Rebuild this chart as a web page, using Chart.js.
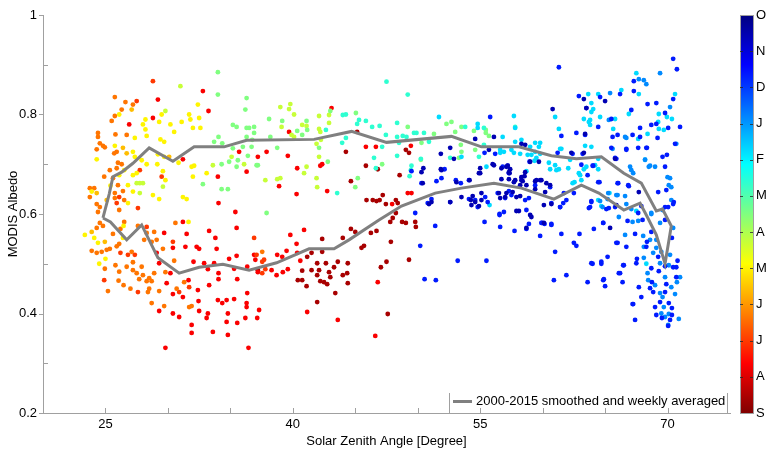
<!DOCTYPE html>
<html>
<head>
<meta charset="utf-8">
<script src="https://cdn.jsdelivr.net/npm/chart.js@4.4.0/dist/chart.umd.min.js"></script>
<style>
  html, body { margin: 0; padding: 0; background: #fff; }
  #wrap { width: 767px; height: 449px; }
</style>
</head>
<body>
<div id="wrap"><canvas id="albedoChart" width="767" height="449"></canvas></div>
<script>
// scatter points [zenith angle, albedo], grouped by month colour (colour bar runs Oct at top -> Sep at bottom)
const octNov = [[50.3,0.684],[50.45,0.692],[51.85,0.69],[53.1,0.664],[52.6,0.733],[52.9,0.711],[54.6,0.751],[56.1,0.755],[55.7,0.729],[56.0,0.70],[55.0,0.692],[55.0,0.682],[53.5,0.634],[54.4,0.636],[55.1,0.642],[57.1,0.642],[60.8,0.811],[63.4,0.761],[62.3,0.723],[63.3,0.723],[59.7,0.705],[58.6,0.739],[59.0,0.705],[57.8,0.668],[58.4,0.666],[58.7,0.658],[59.5,0.668],[59.9,0.668],[59.4,0.65],[60.6,0.658],[60.7,0.62],[60.1,0.618],[58.1,0.606],[59.1,0.594],[58.7,0.572],[58.2,0.636],[63.3,0.831],[65.0,0.827],[63.5,0.813],[58.3,0.741],[57.2,0.697],[56.7,0.692],[57.4,0.69],[57.35,0.682],[56.7,0.67],[57.7,0.664],[58.3,0.668],[58.55,0.676],[58.2,0.658],[59.4,0.666],[59.8,0.668],[60.3,0.662],[60.2,0.644],[57.0,0.634],[57.6,0.644],[65.8,0.711],[67.7,0.644],[65.9,0.618],[65.4,0.572],[51.9,0.688],[54.15,0.668],[54.9,0.682],[50.4,0.662],[55.1,0.628],[54.3,0.618],[54.9,0.616],[56.5,0.642],[56.6,0.632],[57.9,0.634],[56.1,0.698],[57.1,0.695],[57.3,0.684],[58.6,0.684],[58.3,0.674],[57.3,0.67],[51.1,0.624],[50.9,0.62],[52.6,0.624],[54.25,0.628],[54.6,0.624],[57.9,0.606],[59.0,0.598],[60.1,0.582],[51.85,0.721]];
const dec = [[49.5,0.686],[50.3,0.662],[51.5,0.666],[51.9,0.672],[52.15,0.69],[53.05,0.668],[53.45,0.662],[54.1,0.668],[55.8,0.795],[55.35,0.723],[56.2,0.721],[56.8,0.695],[57.2,0.697],[57.3,0.682],[49.8,0.602],[50.8,0.622],[51.1,0.63],[52.6,0.624],[54.1,0.63],[54.6,0.628],[54.8,0.614],[55.6,0.624],[56.4,0.642],[56.55,0.60],[56.9,0.604],[57.0,0.632],[63.5,0.813],[62.7,0.763],[61.5,0.757],[63.6,0.678],[61.7,0.642],[61.9,0.628],[61.4,0.614],[58.6,0.628],[58.7,0.608],[59.95,0.582],[60.7,0.58],[56.6,0.574],[56.55,0.598],[57.5,0.638],[57.3,0.646],[63.8,0.614],[63.9,0.626],[51.4,0.576],[50.2,0.536],[50.55,0.469],[51.45,0.467],[53.2,0.506],[55.5,0.506],[55.35,0.584],[70.45,0.912],[70.75,0.891],[61.3,0.895],[67.3,0.867],[67.3,0.847],[66.2,0.841],[62.9,0.837],[64.6,0.835],[64.45,0.775],[65.5,0.791],[67.1,0.809],[68.4,0.821],[69.1,0.823],[69.8,0.803],[70.45,0.831],[69.1,0.781],[68.7,0.779],[70.05,0.773],[71.0,0.775],[67.8,0.773],[66.0,0.759],[65.6,0.755],[67.2,0.759],[67.8,0.755],[69.2,0.753],[68.35,0.733],[66.7,0.731],[63.4,0.759],[69.95,0.719],[65.8,0.713],[61.2,0.723],[62.4,0.721],[63.2,0.721],[64.05,0.697],[63.1,0.699],[58.95,0.705],[59.4,0.658],[60.6,0.654],[62.5,0.642],[64.45,0.664],[66.0,0.662],[66.85,0.658],[58.9,0.632],[60.7,0.622],[61.65,0.622],[61.4,0.614],[65.1,0.61],[65.8,0.614],[68.0,0.588],[69.25,0.644],[69.8,0.614],[70.45,0.62],[67.65,0.602],[67.65,0.733],[65.5,0.733],[66.7,0.729],[65.9,0.711],[68.3,0.733],[70.6,0.741],[69.6,0.715],[64.0,0.697],[69.8,0.695],[64.55,0.664],[66.05,0.662],[66.9,0.656],[69.9,0.648],[63.9,0.624],[65.3,0.612],[67.9,0.616],[63.7,0.612],[70.05,0.614],[70.5,0.624],[69.8,0.588],[64.85,0.582],[64.1,0.57],[66.8,0.586],[67.4,0.56],[68.7,0.564],[68.35,0.544],[68.3,0.534],[66.7,0.534],[66.0,0.542],[70.35,0.552],[69.25,0.514],[65.2,0.514],[67.55,0.51],[64.0,0.50],[64.7,0.50],[66.5,0.497],[69.8,0.495],[70.45,0.493],[70.8,0.506],[70.7,0.493],[68.7,0.491],[69.3,0.485],[66.2,0.481],[70.7,0.473],[64.9,0.469],[66.4,0.463],[68.75,0.463],[67.7,0.453],[68.6,0.451],[69.9,0.459],[68.85,0.443],[69.8,0.443],[67.9,0.433],[69.4,0.423],[70.1,0.421],[69.0,0.413],[67.2,0.419],[70.35,0.411],[69.1,0.397],[70.35,0.397],[69.55,0.391],[70.2,0.387],[67.4,0.387],[70.05,0.375],[60.9,0.467],[61.9,0.477],[63.6,0.463],[64.85,0.467],[65.0,0.455],[61.0,0.524],[62.5,0.542],[62.7,0.536],[63.9,0.501],[64.7,0.504],[66.1,0.481],[66.45,0.497],[67.5,0.501],[67.25,0.419],[57.75,0.566],[58.7,0.57],[58.9,0.58],[59.9,0.582],[60.15,0.58],[60.7,0.578],[59.8,0.556],[61.5,0.56],[62.95,0.56],[64.85,0.582],[65.9,0.542],[55.4,0.634]];
const jan = [[65.4,0.843],[67.7,0.871],[68.1,0.869],[68.3,0.861],[69.4,0.883],[65.3,0.789],[70.2,0.815],[66.7,0.753],[70.7,0.741],[65.6,0.731],[66.6,0.755],[65.25,0.642],[65.9,0.638],[68.7,0.602],[70.2,0.672],[70.1,0.658],[70.3,0.628],[67.1,0.61],[69.0,0.695],[68.6,0.697],[68.2,0.709],[67.1,0.688],[67.25,0.682],[67.0,0.695],[68.5,0.695],[70.0,0.674],[70.3,0.654],[66.0,0.638],[66.6,0.636],[64.6,0.626],[65.2,0.63],[64.8,0.614],[66.7,0.62],[66.1,0.594],[68.7,0.60],[69.4,0.582],[69.6,0.608],[70.45,0.572],[67.2,0.584],[67.65,0.586],[68.05,0.556],[66.6,0.558],[68.6,0.548],[69.1,0.548],[68.1,0.534],[69.1,0.532],[69.5,0.524],[70.2,0.518],[68.85,0.522],[68.1,0.512],[69.4,0.501],[70.1,0.497],[68.4,0.481],[69.8,0.473],[71.0,0.473],[70.75,0.463],[68.45,0.467],[69.0,0.457],[70.3,0.453],[69.4,0.441],[70.6,0.439],[69.6,0.433],[69.7,0.413],[69.5,0.40],[70.1,0.399],[69.8,0.393],[70.9,0.389],[70.05,0.377]];
const feb = [[51.7,0.795],[54.8,0.781],[54.8,0.773],[56.8,0.755],[56.6,0.723],[55.5,0.695],[55.75,0.618],[53.5,0.715],[63.9,0.823],[63.8,0.789],[63.9,0.735],[64.2,0.698],[63.0,0.678],[63.3,0.69],[62.55,0.664],[63.1,0.668],[61.4,0.731],[60.5,0.703],[60.6,0.69],[62.05,0.692],[61.0,0.698],[61.1,0.688],[59.35,0.707],[59.5,0.713],[59.8,0.721],[59.8,0.743],[59.0,0.735],[58.3,0.749],[57.8,0.745],[57.7,0.723],[57.5,0.729],[58.2,0.721],[59.1,0.719],[59.4,0.725],[58.7,0.686],[64.45,0.628],[67.5,0.883],[63.65,0.841],[64.45,0.841],[66.3,0.849],[67.7,0.841],[63.9,0.805],[64.05,0.811],[64.6,0.795],[63.3,0.791],[63.7,0.785],[63.8,0.779],[65.8,0.791],[66.9,0.801],[69.3,0.801],[70.6,0.841],[69.95,0.795],[70.35,0.791],[69.25,0.785],[69.3,0.771],[69.7,0.769],[65.65,0.771],[67.65,0.751],[68.4,0.761],[63.4,0.737],[61.5,0.731],[61.3,0.771],[68.2,0.709],[61.0,0.795],[57.7,0.797],[57.8,0.773],[59.7,0.735],[62.2,0.709],[63.5,0.695],[64.45,0.711],[62.9,0.682],[61.3,0.69],[62.4,0.662],[64.7,0.616],[64.45,0.69],[67.5,0.606],[65.35,0.642],[68.3,0.50],[58.8,0.719],[59.4,0.743],[56.6,0.729],[56.9,0.725]];
const mar = [[47.5,0.866],[49.2,0.84],[44.0,0.799],[44.25,0.80],[45.3,0.789],[45.85,0.787],[45.15,0.781],[46.35,0.775],[46.95,0.777],[48.35,0.783],[42.65,0.769],[43.95,0.743],[44.25,0.753],[47.45,0.759],[47.15,0.735],[48.35,0.755],[48.5,0.743],[49.1,0.755],[48.35,0.717],[46.5,0.713],[46.65,0.692],[50.25,0.711],[49.5,0.697],[49.35,0.676],[52.6,0.713],[43.55,0.642],[49.7,0.763],[49.9,0.763],[50.5,0.763],[50.9,0.745],[53.8,0.775],[55.3,0.773],[55.3,0.739],[54.9,0.715],[57.8,0.775],[49.45,0.688],[48.8,0.757]];
const aprEarly = [[34.0,0.885],[34.0,0.84],[36.3,0.833],[32.8,0.66],[34.3,0.70],[34.9,0.705],[34.3,0.65],[34.8,0.65],[34.05,0.755],[33.7,0.745],[34.35,0.742],[35.2,0.779],[35.5,0.775],[36.3,0.773],[36.9,0.775],[36.2,0.81],[36.3,0.755],[35.2,0.732],[35.6,0.708],[36.4,0.717],[35.5,0.695],[36.75,0.749],[36.0,0.735],[37.1,0.698],[38.1,0.791],[39.15,0.787],[41.1,0.787],[43.0,0.807],[45.05,0.803],[49.2,0.775],[36.5,0.773],[36.9,0.763],[40.35,0.767],[40.75,0.759],[41.15,0.769],[38.2,0.755],[38.75,0.733],[42.1,0.733],[37.9,0.602],[45.0,0.654],[45.2,0.672],[36.7,0.735],[37.2,0.698],[42.8,0.705],[47.15,0.70],[55.45,0.769],[50.3,0.743],[51.3,0.761],[52.3,0.781],[52.7,0.785],[53.0,0.765],[53.5,0.775],[54.5,0.767],[55.45,0.763],[55.7,0.757],[53.45,0.739],[53.5,0.725],[54.6,0.729],[50.25,0.709],[53.3,0.713]];
const apr = [[31.0,0.857],[29.8,0.807],[27.5,0.662],[27.75,0.662],[28.0,0.662],[27.75,0.642],[29.6,0.655],[33.6,0.698],[35.1,0.715],[36.1,0.70],[39.0,0.815],[39.8,0.821],[39.7,0.811],[40.1,0.80],[39.1,0.775],[40.75,0.779],[41.1,0.777],[42.1,0.797],[42.9,0.799],[39.9,0.759],[40.1,0.755],[42.1,0.771],[42.9,0.783],[42.2,0.765],[41.9,0.741],[42.25,0.749],[37.8,0.668],[38.75,0.67],[39.0,0.672],[40.9,0.682],[41.1,0.695],[41.9,0.672],[41.95,0.654],[42.1,0.715]];
const may = [[26.1,0.80],[28.2,0.79],[29.3,0.785],[29.5,0.80],[30.2,0.78],[32.4,0.82],[31.7,0.80],[31.1,0.785],[31.8,0.79],[32.0,0.773],[32.5,0.793],[32.6,0.773],[30.5,0.765],[29.4,0.75],[29.7,0.745],[28.2,0.77],[28.3,0.757],[28.0,0.78],[27.35,0.753],[25.75,0.737],[27.2,0.725],[27.35,0.715],[24.3,0.71],[27.9,0.708],[29.2,0.72],[29.7,0.715],[30.85,0.703],[29.15,0.70],[29.6,0.686],[29.8,0.668],[28.3,0.70],[27.5,0.682],[27.2,0.678],[26.5,0.688],[26.1,0.678],[25.4,0.657],[26.8,0.658],[27.2,0.645],[23.9,0.645],[26.8,0.622],[28.8,0.638],[29.3,0.63],[31.2,0.634],[31.5,0.63],[32.0,0.675],[31.9,0.695],[32.1,0.697],[33.1,0.682],[23.35,0.558],[24.1,0.552],[24.4,0.542],[25.0,0.51],[24.5,0.50],[26.4,0.552],[26.45,0.576],[31.65,0.584]];
const mayLate = [[27.1,0.81],[26.4,0.733],[26.7,0.722],[30.1,0.715],[24.95,0.544],[23.9,0.564],[25.1,0.628],[24.3,0.642]];
const jun = [[25.75,0.835],[26.6,0.825],[27.2,0.82],[26.3,0.81],[25.5,0.787],[25.75,0.797],[26.7,0.759],[25.8,0.76],[24.4,0.763],[24.4,0.755],[24.55,0.742],[24.8,0.737],[24.3,0.73],[24.95,0.734],[25.9,0.725],[25.7,0.722],[26.3,0.70],[26.0,0.703],[25.9,0.692],[25.35,0.688],[25.6,0.672],[24.9,0.675],[26.0,0.658],[26.4,0.646],[25.75,0.642],[23.75,0.652],[24.1,0.652],[23.75,0.634],[24.3,0.62],[24.55,0.614],[24.4,0.604],[25.75,0.632],[26.1,0.608],[26.5,0.628],[24.3,0.572],[24.55,0.582],[24.8,0.576],[23.9,0.526],[24.3,0.522],[24.7,0.524],[25.1,0.528],[25.35,0.53],[24.95,0.49],[25.2,0.445],[25.6,0.56],[25.9,0.535],[26.1,0.54],[26.5,0.584],[26.2,0.57],[25.8,0.497],[26.1,0.484],[26.05,0.466],[26.45,0.457],[27.0,0.45],[27.1,0.524],[27.2,0.503],[26.7,0.494],[27.2,0.487],[27.9,0.494],[27.5,0.481],[28.0,0.477],[27.7,0.469],[28.3,0.465],[28.5,0.471],[28.7,0.465],[28.9,0.481],[28.4,0.443],[28.5,0.45],[29.3,0.445],[28.7,0.421],[29.7,0.415],[31.9,0.415],[31.7,0.413],[31.3,0.463],[30.7,0.45],[29.8,0.483],[29.6,0.53],[29.1,0.548],[28.7,0.544],[28.1,0.548],[28.3,0.562],[28.9,0.564],[27.6,0.576],[30.6,0.582],[30.5,0.506],[37.55,0.524]];
const jul = [[28.8,0.867],[27.5,0.827],[29.5,0.675],[27.75,0.688],[25.9,0.622],[26.1,0.634],[27.6,0.612],[24.9,0.467],[26.2,0.522],[26.8,0.518],[27.35,0.518],[27.6,0.443],[31.7,0.453],[30.9,0.443],[28.3,0.574],[30.4,0.544],[36.9,0.552],[37.1,0.518],[37.55,0.504],[37.7,0.508],[37.8,0.489],[37.55,0.481]];
const aug = [[29.2,0.83],[26.9,0.78],[28.8,0.793],[32.8,0.847],[33.25,0.807],[31.2,0.71],[34.0,0.675],[34.05,0.622],[35.4,0.604],[35.7,0.725],[36.3,0.685],[37.2,0.715],[37.9,0.725],[39.7,0.765],[39.6,0.717],[43.1,0.813],[45.85,0.735],[46.65,0.735],[49.45,0.737],[47.95,0.62],[49.2,0.642],[49.5,0.642],[42.75,0.646],[40.3,0.64],[38.9,0.656],[40.35,0.692],[42.2,0.697],[42.35,0.70],[29.3,0.405],[30.4,0.40],[30.9,0.393],[31.9,0.377],[31.9,0.361],[29.8,0.331],[32.5,0.405],[33.2,0.40],[33.1,0.391],[33.6,0.363],[32.45,0.425],[32.4,0.447],[31.65,0.467],[31.2,0.433],[30.4,0.439],[29.9,0.461],[30.2,0.481],[29.3,0.501],[29.1,0.522],[29.7,0.562],[31.2,0.584],[31.5,0.56],[31.4,0.534],[30.4,0.532],[32.05,0.504],[32.3,0.534],[32.5,0.53],[32.9,0.501],[33.3,0.566],[33.8,0.552],[33.9,0.53],[33.2,0.489],[33.7,0.501],[34.05,0.481],[34.05,0.469],[33.3,0.457],[34.0,0.427],[34.35,0.421],[34.7,0.427],[34.8,0.40],[34.7,0.383],[34.8,0.357],[35.3,0.429],[35.55,0.381],[36.2,0.391],[36.3,0.421],[36.35,0.441],[36.3,0.413],[36.45,0.331],[37.15,0.391],[35.5,0.572],[35.5,0.516],[34.9,0.51],[35.3,0.49],[35.55,0.469],[36.35,0.494],[36.9,0.518],[37.3,0.407],[37.0,0.508],[37.2,0.483],[38.3,0.487],[38.7,0.477],[38.75,0.518],[39.15,0.514],[39.5,0.526],[39.2,0.483],[39.6,0.489],[39.8,0.558],[40.3,0.54],[40.9,0.568],[40.35,0.522],[40.6,0.506],[41.15,0.403],[43.6,0.387],[46.8,0.463],[46.6,0.355]];
const sep = [[44.25,0.725],[45.15,0.765],[49.05,0.729],[49.3,0.723],[45.85,0.697],[46.8,0.69],[48.55,0.678],[45.9,0.628],[46.4,0.628],[46.7,0.626],[46.95,0.628],[47.2,0.638],[47.45,0.62],[48.25,0.628],[48.4,0.622],[48.0,0.592],[48.25,0.602],[44.65,0.666],[37.2,0.487],[40.75,0.486],[40.4,0.467],[40.75,0.467],[41.1,0.455],[41.95,0.423],[41.5,0.487],[41.15,0.514],[41.5,0.522],[41.95,0.501],[41.95,0.477],[42.1,0.487],[42.35,0.524],[42.35,0.55],[42.65,0.501],[42.2,0.465],[42.5,0.463],[42.75,0.459],[43.0,0.473],[42.9,0.483],[43.3,0.493],[43.6,0.504],[44.0,0.552],[43.4,0.441],[44.0,0.477],[44.35,0.481],[44.4,0.501],[44.4,0.461],[44.65,0.57],[45.0,0.564],[45.5,0.532],[45.7,0.536],[46.25,0.562],[46.7,0.566],[47.05,0.493],[47.5,0.504],[47.85,0.544],[47.6,0.399],[47.8,0.584],[48.75,0.584],[49.05,0.582],[49.3,0.508],[49.8,0.584],[49.85,0.574]];

// position of each group on the colour bar, 0 = top (Oct) .. 1 = bottom (Sep)
const groups = [octNov, dec, jan, feb, mar, aprEarly, apr, may, mayLate, jun, jul, aug, sep];
const groupShade = [0.05, 0.15, 0.26, 0.34, 0.42, 0.5, 0.57, 0.635, 0.69, 0.76, 0.82, 0.88, 0.96];

// smoothed weekly average loop (traced in order)
const smoothZenith = [24.8,25.3,25.6,26.3,27.2,28.5,30.4,31.1,32.1,34.5,36.3,41.7,44.7,47.5,52.7,55.1,58.1,60.7,62.7,64.7,66.5,67.9,69.1,69.6,70.3,69.8,69.1,68.3,67.8,66.5,64.5,63.1,60.9,58.3,56.1,53.5,51.4,48.7,46.9,44.5,43.3,41.3,38.7,36.5,34.4,32.5,30.9,29.2,27.9,26.7,25.4,24.8];
const smoothAlbedo = [0.592,0.64,0.675,0.684,0.702,0.733,0.706,0.718,0.735,0.735,0.748,0.75,0.766,0.744,0.756,0.735,0.735,0.717,0.711,0.715,0.682,0.662,0.606,0.61,0.576,0.5,0.558,0.598,0.622,0.608,0.642,0.658,0.63,0.652,0.662,0.652,0.642,0.616,0.588,0.548,0.53,0.53,0.502,0.487,0.499,0.493,0.481,0.512,0.578,0.548,0.584,0.592];

const xLabelled = [25, 40, 55, 70];
const monthTicks = ['O','N','D','J','F','M','A','M','J','J','A','S'];
const legendText = '2000-2015 smoothed and weekly averaged';

const FONT = '"Liberation Sans", Arial, sans-serif';

function jet(v) {
    const c = t => Math.round(255 * Math.max(0, Math.min(1, 1.5 - Math.abs(4 * v - t))));
    return `rgb(${c(3)},${c(2)},${c(1)})`;
}

const pointSets = groups.map((g, i) => ({
    data: g.map(p => ({ x: p[0], y: p[1] })),
    backgroundColor: jet(groupShade[i]),
    borderWidth: 0,
    pointRadius: 2.4,
    order: 1
}));

const loopSet = {
    data: smoothZenith.map((x, i) => ({ x: x, y: smoothAlbedo[i] })),
    showLine: true,
    borderColor: 'rgb(128,128,128)',
    borderWidth: 3,
    pointRadius: 0,
    tension: 0,
    order: 0
};

// ticks on the axes, colour bar and legend
const extras = {
    id: 'extras',
    afterDraw(chart) {
        const ctx = chart.ctx;
        const xs = chart.scales.x, ys = chart.scales.y;
        const a = chart.chartArea;
        ctx.save();
        ctx.strokeStyle = '#a0a0a0';
        ctx.lineWidth = 1;
        ctx.beginPath();
        for (let v = 2; v <= 10; v++) {
            const y = Math.round(ys.getPixelForValue(v / 10)) + 0.5;
            if (v % 2 === 0) { ctx.moveTo(a.left - 4, y); ctx.lineTo(a.left, y); }
            else { ctx.moveTo(a.left, y); ctx.lineTo(a.left + 5, y); }
        }
        for (let v = 25; v <= 70; v += 5) {
            const x = Math.round(xs.getPixelForValue(v)) + 0.5;
            ctx.moveTo(x, a.bottom); ctx.lineTo(x, a.bottom - 5);
        }
        ctx.stroke();

        // legend
        const lx0 = 449.5, lx1 = 727.5, ly = 401.5;
        ctx.beginPath();
        ctx.moveTo(lx0, 393); ctx.lineTo(lx0, a.bottom);
        ctx.moveTo(lx1, 393); ctx.lineTo(lx1, a.bottom);
        ctx.stroke();
        ctx.strokeStyle = 'rgb(128,128,128)';
        ctx.lineWidth = 3;
        ctx.beginPath();
        ctx.moveTo(453, ly); ctx.lineTo(472, ly);
        ctx.stroke();
        ctx.fillStyle = '#000';
        ctx.font = '13px ' + FONT;
        ctx.textBaseline = 'middle';
        ctx.textAlign = 'left';
        ctx.fillText(legendText, 476, ly);

        // colour bar
        const cx = 740, cw = 13, top = a.top, bot = a.bottom;
        const grad = ctx.createLinearGradient(0, top, 0, bot);
        for (let s = 0; s <= 40; s++) grad.addColorStop(s / 40, jet(s / 40));
        ctx.fillStyle = grad;
        ctx.fillRect(cx, top, cw, bot - top);
        ctx.lineWidth = 1;
        ctx.strokeStyle = '#a0a0a0';
        ctx.strokeRect(cx + 0.5, top + 0.5, cw, bot - top);
        ctx.strokeStyle = 'rgba(40,40,40,0.8)';
        ctx.beginPath();
        const step = (bot - top) / (monthTicks.length - 1);
        monthTicks.forEach((m, i) => {
            const y = Math.round(top + i * step) + 0.5;
            if (i > 0 && i < monthTicks.length - 1) {
                ctx.moveTo(cx, y); ctx.lineTo(cx + 3, y);
                ctx.moveTo(cx + cw - 3, y); ctx.lineTo(cx + cw, y);
            }
        });
        ctx.stroke();
        ctx.fillStyle = '#000';
        monthTicks.forEach((m, i) => ctx.fillText(m, cx + cw + 3, top + i * step));
        ctx.restore();
    }
};

new Chart(document.getElementById('albedoChart'), {
    type: 'scatter',
    data: { datasets: [loopSet].concat(pointSets) },
    options: {
        responsive: false,
        animation: false,
        events: [],
        layout: { padding: { left: 0, right: 37, top: 15, bottom: 0 } },
        plugins: { legend: { display: false }, tooltip: { enabled: false } },
        scales: {
            x: {
                type: 'linear', min: 20, max: 75,
                afterFit: s => { s.height = 36; },
                border: { display: true, color: '#a0a0a0' },
                grid: { drawOnChartArea: false, drawTicks: false },
                ticks: {
                    stepSize: 5, padding: 4, color: '#000', autoSkip: false, maxRotation: 0,
                    font: { family: FONT, size: 13 },
                    callback: v => xLabelled.includes(Math.round(v)) ? String(Math.round(v)) : ''
                },
                title: { display: true, text: 'Solar Zenith Angle [Degree]', color: '#000', font: { family: FONT, size: 13 }, padding: { top: 0, bottom: 0 } }
            },
            y: {
                type: 'linear', min: 0.2, max: 1,
                afterFit: s => { s.width = 43; },
                border: { display: true, color: '#a0a0a0' },
                grid: { drawOnChartArea: false, drawTicks: false },
                ticks: {
                    stepSize: 0.1, padding: 6, color: '#000', autoSkip: false,
                    font: { family: FONT, size: 13 },
                    callback: v => { const k = Math.round(v * 10); return k % 2 === 0 ? String(k / 10) : ''; }
                },
                title: { display: true, text: 'MODIS Albedo', color: '#000', font: { family: FONT, size: 13 }, padding: { top: 6, bottom: 0 } }
            }
        }
    },
    plugins: [extras]
});
</script>
</body>
</html>
